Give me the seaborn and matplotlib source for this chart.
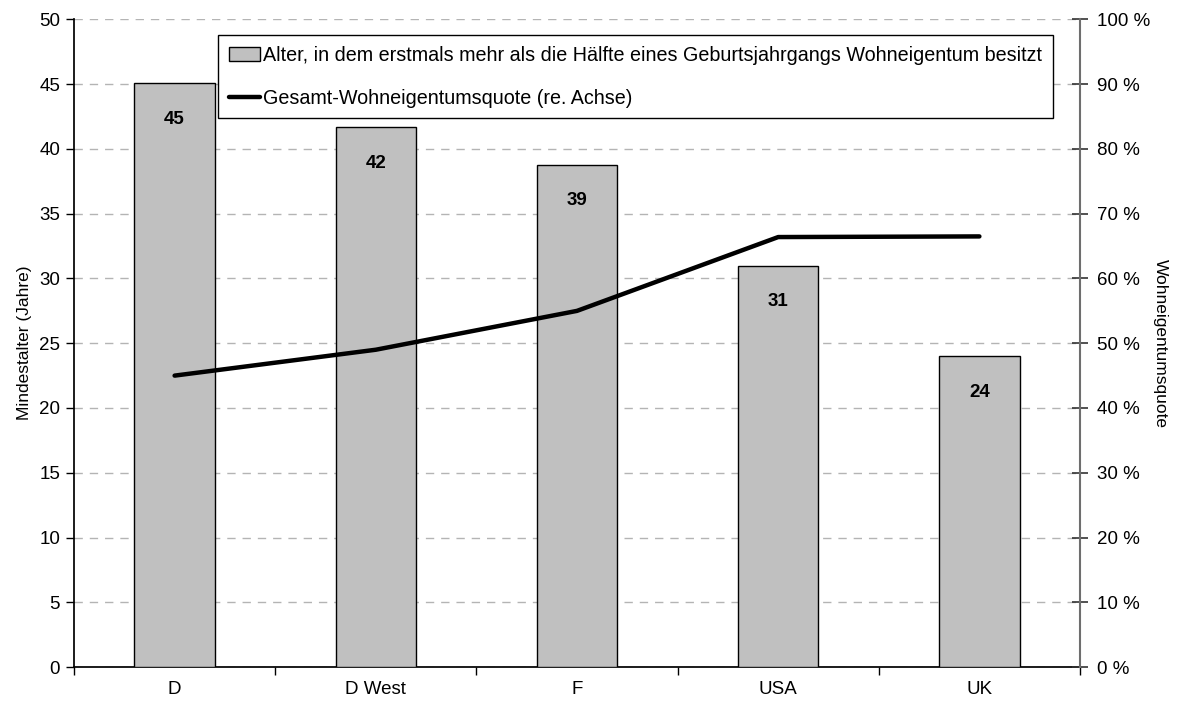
import matplotlib
matplotlib.use("Agg")
import matplotlib.pyplot as plt
import seaborn as sns
import pandas as pd
import numpy as np
from matplotlib.ticker import FixedLocator, FuncFormatter
from matplotlib.patches import Patch
from matplotlib.lines import Line2D

categories = ["D", "D West", "F", "USA", "UK"]
alter = [45.1, 41.7, 38.8, 31.0, 24.0]
alter_labels = ["45", "42", "39", "31", "24"]
quote = [45.0, 49.0, 55.0, 66.4, 66.5]

bar_name = "Alter, in dem erstmals mehr als die Hälfte eines Geburtsjahrgangs Wohneigentum besitzt"
line_name = "Gesamt-Wohneigentumsquote (re. Achse)"

sns.set_theme(style="white")
plt.rcParams['font.family'] = ['Liberation Sans', 'DejaVu Sans']
plt.rcParams['text.color'] = 'black'
plt.rcParams['axes.labelcolor'] = 'black'
plt.rcParams['xtick.color'] = 'black'
plt.rcParams['ytick.color'] = 'black'

df = pd.DataFrame({"Land": categories, "Alter": alter, "Quote": quote})

fig = plt.figure(figsize=(11.79, 7.04), dpi=100)
ax = fig.add_axes([74/1179, 1 - 667/704, (1080-74)/1179, (667-19.5)/704])

sns.barplot(data=df, x="Land", y="Alter", ax=ax, color="#c0c0c0",
            edgecolor="black", linewidth=1.0, width=0.4, saturation=1, zorder=3)
ax.set_xlim(-0.5, 4.5)
ax.set_ylim(0, 50)
ax.set_yticks(np.arange(0, 51, 5))
ax.yaxis.grid(True, linestyle=(0, (6, 5)), color="#b4b4b4", linewidth=1.0, zorder=0)
ax.set_axisbelow(True)
ax.set_xlabel("")
ax.set_ylabel("Mindestalter (Jahre)", fontsize=12.5, labelpad=5)
ax.tick_params(axis="y", labelsize=13.5, length=6, width=1, color="black", direction="out", left=True, pad=4)
ax.tick_params(axis="x", labelsize=13.5, length=0, pad=10)
ax.xaxis.set_minor_locator(FixedLocator(np.arange(-0.5, 4.6, 1.0)))
ax.tick_params(axis="x", which="minor", length=6, width=1, color="black", direction="out", bottom=True)
ax.spines["top"].set_visible(False)
ax.spines["right"].set_visible(False)
ax.spines["left"].set_color("black")
ax.spines["bottom"].set_color("black")

for i, (v, lab) in enumerate(zip(alter, alter_labels)):
    ax.text(i, v - 2.8, lab, ha="center", va="center", fontsize=13.5, fontweight="bold", zorder=5)

ax2 = ax.twinx()
sns.lineplot(data=df, x="Land", y="Quote", ax=ax2, color="black", linewidth=3.2,
             sort=False, zorder=4)
ax2.set_ylim(0, 100)
ax2.set_yticks(np.arange(0, 101, 10))
ax2.yaxis.set_major_formatter(FuncFormatter(lambda v, p: f"{int(v)} %"))
ax2.tick_params(axis="y", labelsize=13.5, length=12, width=1.2, color="#333333", direction="inout", right=True, pad=6)
ax2.set_ylabel("Wohneigentumsquote", fontsize=12.5, rotation=270, labelpad=13)
for s in ["top", "left", "bottom"]:
    ax2.spines[s].set_visible(False)
ax2.spines["right"].set_color("#6e6e6e")
ax2.spines["right"].set_linewidth(1.5)
ax2.set_xlabel("")
ax2.set_xlim(-0.5, 4.5)

handles = [Patch(facecolor="#c0c0c0", edgecolor="black", linewidth=1.0),
           Line2D([0], [0], color="black", linewidth=3.2)]
leg = ax2.legend(handles, [bar_name, line_name], loc="upper left",
                 bbox_to_anchor=((218-74)/1006, (667-35)/647.5), fontsize=14.2,
                 frameon=True, fancybox=False, edgecolor="black", framealpha=1,
                 handlelength=1.6, handletextpad=0.15, labelspacing=1.2,
                 borderpad=0.55, borderaxespad=0)
leg.get_frame().set_linewidth(1.0)

fig.savefig("out.png", dpi=100)
